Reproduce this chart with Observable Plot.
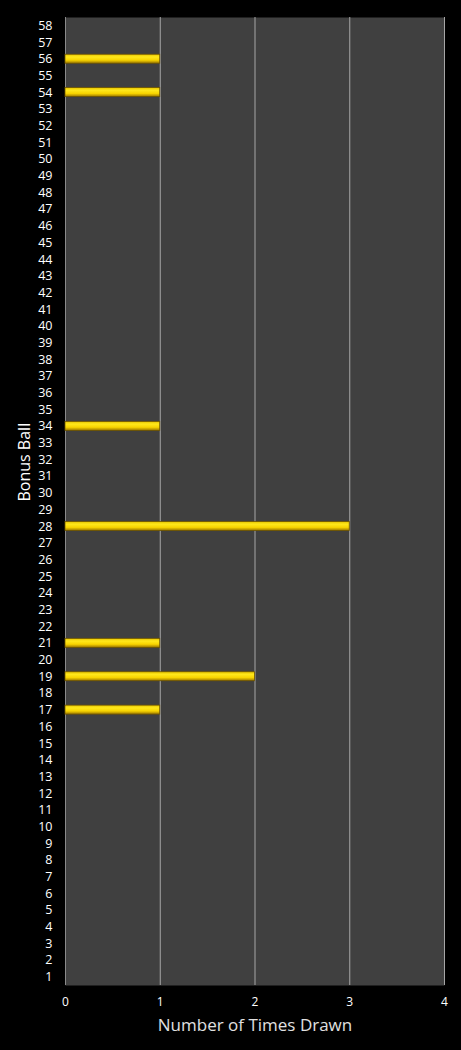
<!DOCTYPE html>
<html>
<head>
<meta charset="utf-8">
<script src="https://cdn.jsdelivr.net/npm/d3@7"></script>
<script src="https://cdn.jsdelivr.net/npm/@observablehq/plot@0.6"></script>
<style>
  html, body { margin: 0; padding: 0; background: #000; }
</style>
</head>
<body>
<div id="chart"></div>
<script>
// Data
const balls = d3.range(1, 59);            // bonus ball numbers 1..58
const drawnBalls = [17, 19, 21, 28, 34, 54, 56];
const drawnCounts = [1, 2, 1, 3, 1, 1, 1];
const xTicks = [0, 1, 2, 3, 4];
const xTitle = "Number of Times Drawn";
const yTitle = "Bonus Ball";

const data = drawnBalls.map((b, i) => ({ball: b, count: drawnCounts[i]}));

const chart = Plot.plot({
  width: 461,
  height: 1050,
  marginLeft: 65,
  marginRight: 17,
  marginTop: 17,
  marginBottom: 65,
  style: { background: "#000", color: "#fff", fontFamily: "Open Sans, sans-serif" },
  x: { domain: [0, 4], ticks: xTicks, tickFormat: d3.format("d"), label: null },
  y: { domain: balls.slice().reverse(), paddingInner: 0.46, paddingOuter: 0.23, label: null },
  marks: [
    Plot.frame({ fill: "#404040", stroke: null }),
    Plot.ruleX(xTicks.slice(1), { stroke: "#a6a6a6", strokeWidth: 1 }),
    Plot.ruleY([0], { x1: 0, x2: 4, stroke: "#a6a6a6", frameAnchor: "bottom" }),
    Plot.ruleX([0], { stroke: "#8a8a8a" }),
    Plot.axisX({ ticks: xTicks, tickFormat: d3.format("d"), tickSize: 0, tickPadding: 12, fontSize: 12, fill: "#fff", label: null }),
    Plot.axisY({ tickSize: 0, tickPadding: 13, fontSize: 12.5, fill: "#fff", label: null }),
    Plot.barX(data, {
      y: "ball", x1: 0, x2: "count",
      fill: "url(#barGrad)", stroke: "#6e5500", strokeWidth: 0.8
    }),
    Plot.text([xTitle], { frameAnchor: "bottom", dy: 45, fontSize: 17, fill: "#e0e0e0" }),
    Plot.text([yTitle], { frameAnchor: "left", dx: -41, rotate: -90, fontSize: 16, fill: "#fff" })
  ]
});

const svg = d3.select(chart);
const defs = svg.insert("defs", ":first-child");
const g = defs.append("linearGradient").attr("id", "barGrad")
  .attr("x1", 0).attr("y1", 0).attr("x2", 0).attr("y2", 1);
g.append("stop").attr("offset", "0%").attr("stop-color", "#e6c400");
g.append("stop").attr("offset", "30%").attr("stop-color", "#ffe81c");
g.append("stop").attr("offset", "65%").attr("stop-color", "#f8d400");
g.append("stop").attr("offset", "100%").attr("stop-color", "#9c7800");

document.getElementById("chart").appendChild(chart);
</script>
</body>
</html>
